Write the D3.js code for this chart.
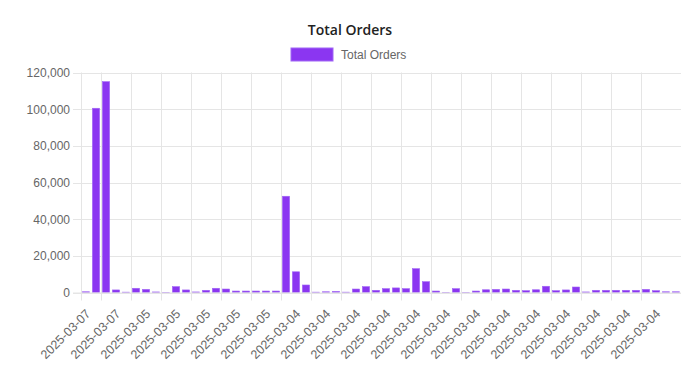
<!DOCTYPE html>
<html>
<head>
<meta charset="utf-8">
<script src="https://cdn.jsdelivr.net/npm/d3@7"></script>
<style>
    body { margin: 0; background: #fff; }
    svg { display: block; }
</style>
</head>
<body>
<svg id="chart"></svg>
<script>
// Data, one entry per bar
const dates = [
    '2025-03-07', '2025-03-07', '2025-03-07', '2025-03-07', '2025-03-07', '2025-03-07',
    '2025-03-05', '2025-03-05', '2025-03-05', '2025-03-05', '2025-03-05', '2025-03-05',
    '2025-03-05', '2025-03-05', '2025-03-05', '2025-03-05', '2025-03-05', '2025-03-05',
    '2025-03-05', '2025-03-05', '2025-03-05', '2025-03-04', '2025-03-04', '2025-03-04',
    '2025-03-04', '2025-03-04', '2025-03-04', '2025-03-04', '2025-03-04', '2025-03-04',
    '2025-03-04', '2025-03-04', '2025-03-04', '2025-03-04', '2025-03-04', '2025-03-04',
    '2025-03-04', '2025-03-04', '2025-03-04', '2025-03-04', '2025-03-04', '2025-03-04',
    '2025-03-04', '2025-03-04', '2025-03-04', '2025-03-04', '2025-03-04', '2025-03-04',
    '2025-03-04', '2025-03-04', '2025-03-04', '2025-03-04', '2025-03-04', '2025-03-04',
    '2025-03-04', '2025-03-04', '2025-03-04', '2025-03-04', '2025-03-04', '2025-03-04'
];
const totalOrders = [
    400, 100500, 115000, 1400, 200, 2300, 1700, 300, 100, 3200,
    1400, 300, 1200, 2300, 1900, 800, 800, 800, 800, 800,
    52500, 11300, 4100, 200, 400, 600, 200, 1900, 3200, 1200,
    2100, 2500, 2100, 13000, 5900, 800, 100, 2100, 100, 800,
    1500, 1700, 1900, 1200, 1000, 1500, 3400, 1000, 1400, 3000,
    300, 1200, 1200, 1200, 1200, 1200, 1700, 1000, 400, 400
];
const yTicks = [0, 20000, 40000, 60000, 80000, 100000, 120000];
const labelEvery = 3;

window.addEventListener('load', () => {
    const width = 700;
    const height = 388;
    const plot = { left: 81, right: 681, top: 72.5, bottom: 292.5 };
    const tickLen = 8;
    const gridColor = '#e5e5e5';
    const textColor = '#666';
    const barColor = '#8b36f1';

    const svg = d3.select('#chart')
        .attr('width', width)
        .attr('height', height);

    // Scales
    const xScale = d3.scaleBand()
        .domain(d3.range(totalOrders.length))
        .range([plot.left, plot.right])
        .paddingInner(0.28)
        .paddingOuter(0.14);
    const yScale = d3.scaleLinear()
        .domain([0, 120000])
        .range([plot.bottom, plot.top]);

    const center = i => xScale(i) + xScale.bandwidth() / 2;
    const shownTicks = d3.range(0, totalOrders.length, labelEvery);

    // Horizontal grid lines (with the little tick stubs to the left)
    svg.append('g')
        .selectAll('line')
        .data(yTicks)
        .join('line')
        .attr('x1', plot.left - tickLen)
        .attr('x2', plot.right)
        .attr('y1', d => Math.round(yScale(d)) + 0.5)
        .attr('y2', d => Math.round(yScale(d)) + 0.5)
        .attr('stroke', gridColor);

    // Vertical grid lines sit halfway between the labels that are shown
    const step = center(labelEvery) - center(0);
    svg.append('g')
        .selectAll('line')
        .data(shownTicks.slice(1))
        .join('line')
        .attr('x1', d => Math.round(center(d) - step / 2) + 0.5)
        .attr('x2', d => Math.round(center(d) - step / 2) + 0.5)
        .attr('y1', plot.top)
        .attr('y2', plot.bottom + tickLen)
        .attr('stroke', gridColor);

    // Left axis border
    svg.append('line')
        .attr('x1', plot.left + 0.5)
        .attr('x2', plot.left + 0.5)
        .attr('y1', plot.top)
        .attr('y2', plot.bottom + tickLen)
        .attr('stroke', gridColor);

    // Y axis labels
    const yAxis = d3.axisLeft(yScale)
        .tickValues(yTicks)
        .tickSize(0)
        .tickPadding(11)
        .tickFormat(d3.format(','));
    const yAxisGroup = svg.append('g')
        .attr('transform', `translate(${plot.left},0)`)
        .call(yAxis);
    yAxisGroup.select('.domain').remove();
    yAxisGroup.selectAll('text')
        .attr('fill', textColor)
        .style('font-family', 'Liberation Sans, Arial, sans-serif')
        .style('font-size', '12px');

    // X axis labels, rotated, every third category
    const xAxis = d3.axisBottom(xScale)
        .tickValues(shownTicks)
        .tickSize(0)
        .tickFormat(i => dates[i]);
    const xAxisGroup = svg.append('g')
        .attr('transform', `translate(0,${plot.bottom})`)
        .call(xAxis);
    xAxisGroup.select('.domain').remove();
    xAxisGroup.selectAll('text')
        .attr('fill', textColor)
        .attr('text-anchor', 'end')
        .attr('y', 0)
        .attr('dy', '0.35em')
        .attr('transform', 'translate(2,19) rotate(-45)')
        .style('font-family', 'Liberation Sans, Arial, sans-serif')
        .style('font-size', '12.5px');

    // Bars
    svg.append('g')
        .selectAll('rect')
        .data(totalOrders)
        .join('rect')
        .attr('x', (d, i) => xScale(i))
        .attr('y', d => yScale(d))
        .attr('width', xScale.bandwidth())
        .attr('height', d => plot.bottom - yScale(d))
        .attr('fill', barColor)
        .attr('stroke', '#a066f5')
        .attr('stroke-width', 0.6);

    // Bottom axis border drawn over the bar bases
    svg.append('line')
        .attr('x1', plot.left - tickLen)
        .attr('x2', plot.right)
        .attr('y1', plot.bottom + 0.5)
        .attr('y2', plot.bottom + 0.5)
        .attr('stroke', gridColor);

    // Title
    svg.append('text')
        .attr('x', 350)
        .attr('y', 35)
        .attr('text-anchor', 'middle')
        .attr('fill', '#222')
        .style('font-family', 'Open Sans, sans-serif')
        .style('font-weight', 600)
        .style('font-size', '14px')
        .text('Total Orders');

    // Legend
    const legend = svg.append('g').attr('transform', 'translate(291,48)');
    legend.append('rect')
        .attr('width', 42)
        .attr('height', 13)
        .attr('fill', barColor)
        .attr('stroke', '#a066f5');
    legend.append('text')
        .attr('x', 50)
        .attr('y', 6.5)
        .attr('dy', '0.35em')
        .attr('fill', textColor)
        .style('font-family', 'Liberation Sans, Arial, sans-serif')
        .style('font-size', '12px')
        .text('Total Orders');
});
</script>
</body>
</html>
